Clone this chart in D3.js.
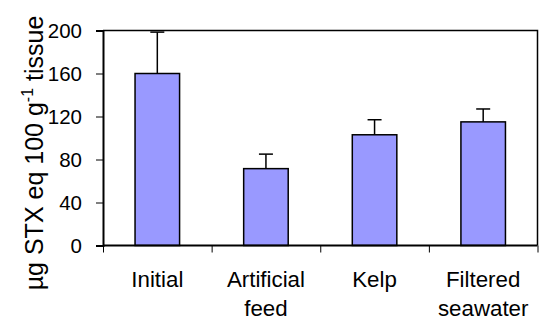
<!DOCTYPE html>
<html>
<head>
<meta charset="utf-8">
<script src="https://cdn.jsdelivr.net/npm/d3@7"></script>
<style>
  html, body { margin: 0; padding: 0; background: #fff; }
  svg { display: block; font-family: "Liberation Sans", Arial, sans-serif; }
</style>
</head>
<body>
<svg id="chart" width="539" height="321"></svg>
<script>
// Treatment groups and mean toxicity with upper error (SE)
const categories = [["Initial"], ["Artificial", "feed"], ["Kelp"], ["Filtered", "seawater"]];
const means = [160, 71.5, 103, 115];
const errors = [38.5, 13.5, 14, 12];
const yTicks = [0, 40, 80, 120, 160, 200];

const svg = d3.select("#chart");
const margin = { left: 103, right: 1.5, top: 30.5, bottom: 75.5 };
const W = 539, H = 321;
const plotW = W - margin.left - margin.right;
const plotH = H - margin.top - margin.bottom;

const g = svg.append("g").attr("transform", `translate(${margin.left},${margin.top})`);

const x = d3.scaleBand().domain(d3.range(categories.length)).range([0, plotW]).paddingInner(0.59).paddingOuter(0.295);
const xEdge = d3.scaleLinear().domain([0, categories.length]).range([0, plotW]);
const y = d3.scaleLinear().domain([0, 200]).range([plotH, 0]);

// plot frame (top and right)
g.append("path")
  .attr("d", `M0,0H${plotW}V${plotH}`)
  .attr("fill", "none").attr("stroke", "#000").attr("stroke-width", 1.5);

// error bars
const eb = g.append("g");
means.forEach((m, i) => {
  const cx = x(i) + x.bandwidth() / 2;
  eb.append("line").attr("x1", cx).attr("x2", cx).attr("y1", y(m)).attr("y2", y(m + errors[i]))
    .attr("stroke", "#000").attr("stroke-width", 1.5);
  eb.append("line").attr("x1", cx - 7).attr("x2", cx + 7).attr("y1", y(m + errors[i])).attr("y2", y(m + errors[i]))
    .attr("stroke", "#000").attr("stroke-width", 1.5);
});

// bars
g.selectAll("rect.bar").data(means).join("rect")
  .attr("class", "bar")
  .attr("x", (d, i) => x(i))
  .attr("y", d => y(d))
  .attr("width", x.bandwidth())
  .attr("height", d => plotH - y(d))
  .attr("fill", "#9999ff")
  .attr("stroke", "#000")
  .attr("stroke-width", 1.5);

// y axis
const yAxis = g.append("g").call(d3.axisLeft(y).tickValues(yTicks).tickSize(7).tickPadding(14));
yAxis.select(".domain").attr("stroke-width", 2);
yAxis.selectAll(".tick line").attr("stroke-width", 1);
yAxis.selectAll(".tick text").attr("font-size", 20.5).attr("fill", "#000").attr("font-family", "Liberation Sans, Arial, sans-serif");

// x axis with ticks at category boundaries
const xAxis = g.append("g").attr("transform", `translate(0,${plotH})`)
  .call(d3.axisBottom(xEdge).tickValues(d3.range(categories.length + 1)).tickSize(7).tickFormat(""));
xAxis.select(".domain").attr("stroke-width", 2).attr("d", `M0,0H${plotW}`);
xAxis.selectAll(".tick line").attr("stroke-width", 1);

// category labels
const labels = g.append("g").attr("font-size", 22.3).attr("text-anchor", "middle");
categories.forEach((lines, i) => {
  const t = labels.append("text").attr("x", x(i) + x.bandwidth() / 2).attr("y", plotH + 41);
  lines.forEach((s, k) => t.append("tspan").attr("x", x(i) + x.bandwidth() / 2).attr("dy", k ? 29.5 : 0).text(s));
});

// y axis title
const title = svg.append("text")
  .attr("transform", `translate(43,153) rotate(-90)`)
  .attr("text-anchor", "middle").attr("font-size", 25);
title.append("tspan").text("µg STX eq 100 g");
title.append("tspan").attr("font-size", 16).attr("dy", -10).text("-1");
title.append("tspan").attr("dy", 10).text(" tissue");
</script>
</body>
</html>
